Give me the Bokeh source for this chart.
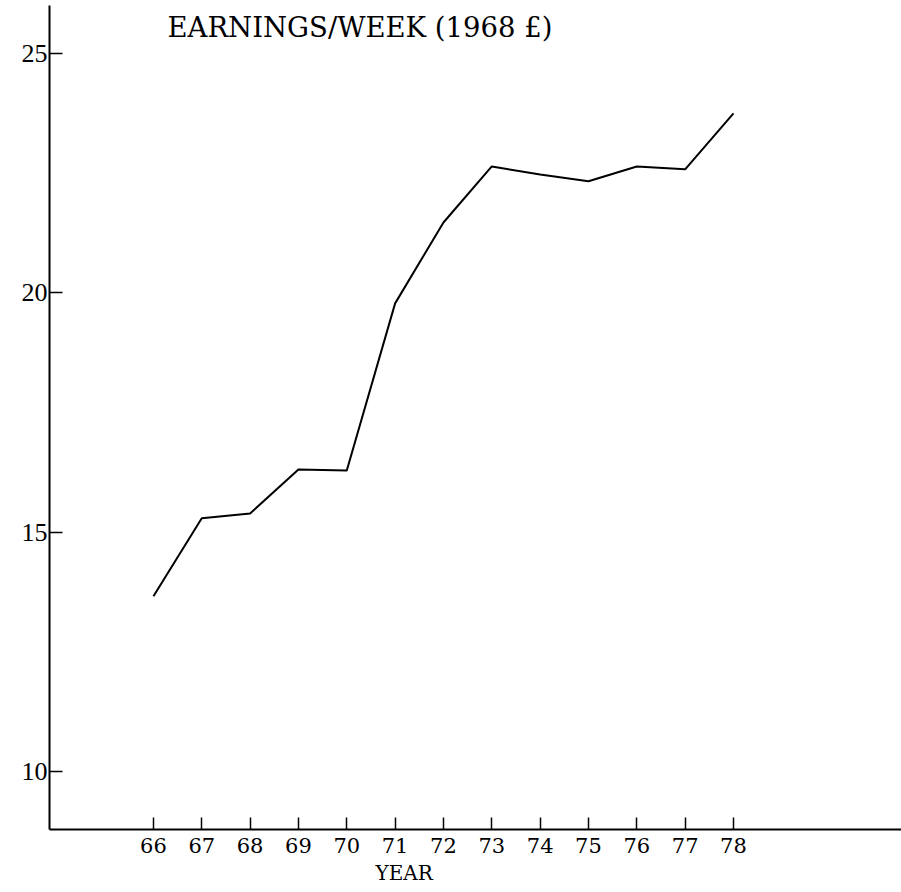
from bokeh.plotting import figure
from bokeh.models import Range1d, FixedTicker, Label, Title
from bokeh.embed import file_html
from bokeh.resources import INLINE

# ---- data ----
years = [66, 67, 68, 69, 70, 71, 72, 73, 74, 75, 76, 77, 78]
earnings = [13.66, 15.29, 15.39, 16.31, 16.29, 19.78, 21.47, 22.64, 22.47, 22.33, 22.64, 22.58, 23.75]
y_ticks = [10, 15, 20, 25]
title_text = "EARNINGS/WEEK (1968 £)"
x_label_text = "YEAR"

p = figure(
    width=901, height=892,
    output_backend="svg", toolbar_location=None,
    x_range=Range1d(63.85, 81.476), y_range=Range1d(8.788, 26.003),
    min_border_left=49, min_border_right=0, min_border_top=5, min_border_bottom=63,
    background_fill_color="white", border_fill_color="white",
)
p.outline_line_color = None
p.grid.visible = False

p.line(years, earnings, line_color="black", line_width=2)

# x axis
xa = p.xaxis[0]
xa.ticker = FixedTicker(ticks=years)
xa.axis_line_color = "black"
xa.axis_line_width = 2
xa.major_tick_in = 12
xa.major_tick_out = 0
xa.major_tick_line_width = 1.5
xa.major_tick_line_color = "black"
xa.minor_tick_line_color = None
xa.major_label_text_font = "DejaVu Serif"
xa.major_label_text_font_size = "21px"
xa.major_label_text_color = "black"
xa.major_label_standoff = 8

# y axis
ya = p.yaxis[0]
ya.ticker = FixedTicker(ticks=y_ticks)
ya.axis_line_color = "black"
ya.axis_line_width = 2
ya.major_tick_in = 13
ya.major_tick_out = 0
ya.major_tick_line_width = 1.5
ya.major_tick_line_color = "black"
ya.minor_tick_line_color = None
ya.major_label_text_font = "Liberation Serif"
ya.major_label_text_font_size = "26px"
ya.major_label_text_color = "black"
ya.major_label_standoff = 2

# title inside the plot area
p.add_layout(Label(x=66.29, y=25.564, text=title_text,
                   text_align="left", text_baseline="alphabetic",
                   text_font="DejaVu Serif", text_font_size="27.5px",
                   text_color="black"))

# x axis caption
p.add_layout(Title(text=x_label_text, align="left", offset=326, standoff=6,
                   text_font="DejaVu Serif", text_font_size="20px",
                   text_font_style="normal", text_color="black"), "below")

open("out.html", "w").write(file_html(p, INLINE))
